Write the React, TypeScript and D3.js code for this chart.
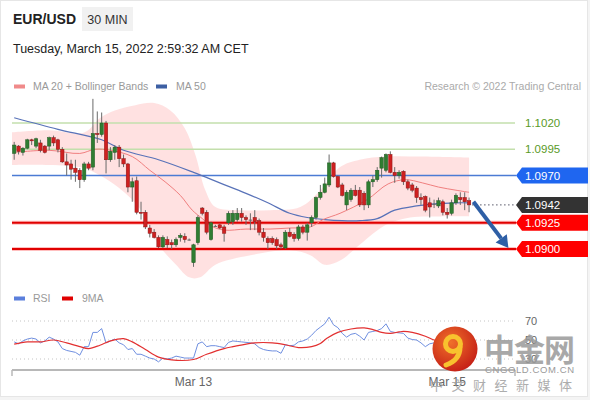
import * as d3 from "d3";
import React from "react";

// 30 min candles, Mar 11 -> Mar 15 02:30 CET
const opens = [
  1.0991, 1.0998, 1.0992, 1.0996, 1.1004, 1.0998, 1.1001, 1.0998, 1.0998, 1.1006,
  1.1004, 1.0995, 1.0983, 1.0981, 1.0977, 1.0975, 1.0966, 1.0981, 1.0978, 1.101,
  1.1009, 1.102, 1.0985, 1.0992, 1.0997, 1.0986, 1.0981, 1.0959, 1.0965, 1.0935,
  1.0935, 1.092, 1.0916, 1.0911, 1.0902, 1.0909, 1.0906, 1.0904, 1.0911, 1.0912,
  1.0909, 1.0887, 1.0906, 1.0939, 1.0935, 1.0909, 1.0922, 1.0923, 1.0921, 1.0925,
  1.0926, 1.0928, 1.0934, 1.093, 1.0928, 1.093, 1.0927, 1.0916, 1.091, 1.091,
  1.0909, 1.0904, 1.0901, 1.0916, 1.0914, 1.091, 1.0921, 1.0916, 1.0925, 1.093,
  1.0949, 1.0954, 1.0961, 1.0982, 1.0969, 1.0961, 1.0942, 1.0947, 1.0956, 1.0956,
  1.0953, 1.0942, 1.0964, 1.0966, 1.0977, 1.0975, 1.099, 1.0973, 1.097, 1.0974,
  1.0964, 1.0961, 1.0958, 1.0949, 1.095, 1.0944, 1.0943, 1.0941, 1.0945, 1.0935,
  1.0934, 1.0944, 1.0949, 1.0949, 1.0946,
];
const highs = [
  1.1002, 1.0999, 1.0997, 1.1005, 1.1005, 1.1006, 1.1004, 1.0999, 1.1007, 1.1008,
  1.1005, 1.0997, 1.0991, 1.0985, 1.0985, 1.0977, 1.0983, 1.0983, 1.1043, 1.1031,
  1.103, 1.1022, 1.0997, 1.0999, 1.0999, 1.099, 1.0982, 1.0968, 1.0969, 1.0945,
  1.0937, 1.0923, 1.0919, 1.0913, 1.0913, 1.0912, 1.0909, 1.0911, 1.0915, 1.0915,
  1.091, 1.0905, 1.0932, 1.094, 1.0937, 1.0926, 1.0923, 1.0924, 1.0923, 1.0936,
  1.0937, 1.0939, 1.0939, 1.0932, 1.0934, 1.0937, 1.0929, 1.092, 1.0912, 1.0912,
  1.0911, 1.0906, 1.0918, 1.092, 1.0916, 1.0923, 1.0923, 1.0925, 1.0932, 1.095,
  1.0961, 1.0968, 1.099, 1.0983, 1.097, 1.0963, 1.0956, 1.0958, 1.0961, 1.0959,
  1.0955, 1.0966, 1.097, 1.0978, 1.0988, 1.0991, 1.0993, 1.0978, 1.0975, 1.0975,
  1.0966, 1.0963, 1.096, 1.0953, 1.0951, 1.0949, 1.0947, 1.0949, 1.0947, 1.0939,
  1.0947, 1.0953, 1.0954, 1.0954, 1.0949,
];
const lows = [
  1.0985, 1.099, 1.0989, 1.0995, 1.0999, 1.0996, 1.0992, 1.0991, 1.0994, 1.0998,
  1.0992, 1.0982, 1.097, 1.0966, 1.0964, 1.0958, 1.0964, 1.0975, 1.0975, 1.1001,
  1.1007, 1.0972, 1.0983, 1.0985, 1.0978, 1.0978, 1.0954, 1.0945, 1.0933, 1.0928,
  1.0919, 1.0911, 1.091, 1.0901, 1.0901, 1.0901, 1.09, 1.0902, 1.0907, 1.0906,
  1.0908, 1.0883, 1.0904, 1.0932, 1.0914, 1.0908, 1.0921, 1.0919, 1.0907, 1.0923,
  1.0923, 1.0926, 1.0926, 1.0923, 1.0918, 1.0918, 1.0913, 1.0907, 1.09, 1.0904,
  1.09, 1.09, 1.09, 1.0911, 1.0907, 1.0908, 1.0914, 1.0908, 1.0921, 1.0928,
  1.0947, 1.0953, 1.0959, 1.0968, 1.0958, 1.095, 1.0937, 1.0945, 1.095, 1.094,
  1.0937, 1.0939, 1.0959, 1.0964, 1.0968, 1.0973, 1.0972, 1.0963, 1.0967, 1.0961,
  1.0956, 1.0954, 1.0944, 1.0942, 1.0935, 1.093, 1.0939, 1.0939, 1.0932, 1.0929,
  1.0932, 1.0942, 1.0942, 1.0937, 1.0935,
];
const closes = [
  1.0999, 1.0993, 1.0996, 1.1004, 1.1003, 1.1005, 1.0994, 1.0992, 1.1006, 1.1001,
  1.0995, 1.0983, 1.098, 1.0976, 1.0973, 1.0966, 1.0981, 1.0977, 1.101, 1.1009,
  1.102, 1.0985, 1.0993, 1.0997, 1.0986, 1.0981, 1.0959, 1.0964, 1.0935, 1.0934,
  1.0921, 1.0915, 1.0911, 1.0902, 1.0911, 1.0904, 1.0904, 1.0909, 1.0913, 1.0909,
  1.0909, 1.0904, 1.093, 1.0934, 1.0916, 1.0925, 1.0922, 1.092, 1.0915, 1.0934,
  1.0934, 1.0934, 1.093, 1.0928, 1.0928, 1.0926, 1.0916, 1.0911, 1.0906, 1.0906,
  1.0903, 1.0902, 1.0916, 1.0912, 1.091, 1.0921, 1.0916, 1.0923, 1.093, 1.0949,
  1.0954, 1.0962, 1.0982, 1.0969, 1.0959, 1.0951, 1.0954, 1.0956, 1.0951, 1.0942,
  1.0942, 1.0964, 1.0966, 1.0975, 1.0987, 1.099, 1.0973, 1.097, 1.0973, 1.0964,
  1.0958, 1.0956, 1.0949, 1.0947, 1.0937, 1.094, 1.0943, 1.0946, 1.0935, 1.0933,
  1.0944, 1.0951, 1.0947, 1.0945, 1.0942,
];

// indicator readings [candle index, value]
const ma20Pts = [
  [0, 1.0992], [8, 1.0994], [15, 1.0991], [18.5, 1.0995], [22, 1.0994], [27, 1.0988],
  [31, 1.0975], [34.5, 1.0964], [38, 1.0951], [40.7, 1.0937], [43, 1.0929], [45, 1.0922],
  [48, 1.0918], [53, 1.0919], [58.5, 1.0919], [63, 1.092], [67.7, 1.0921], [70.6, 1.0928],
  [74.5, 1.0934], [80.7, 1.0947], [85.5, 1.0962], [89.4, 1.0966], [93.3, 1.0963],
  [97, 1.0959], [101, 1.0956], [104, 1.0954],
];
const bbUpperPts = [
  [-0.5, 1.1011], [8, 1.1013], [16, 1.1011], [19.7, 1.1025], [23, 1.1032], [27.7, 1.1037],
  [32, 1.1039], [35.7, 1.1032], [39, 1.1015], [41.4, 1.099], [43.7, 1.0956], [46, 1.094],
  [51.7, 1.0937], [58.5, 1.0937], [65.4, 1.094], [70, 1.0956], [74.5, 1.0978], [79, 1.0985],
  [85, 1.0988], [93, 1.0988], [104, 1.0987],
];
const bbLowerPts = [
  [-0.5, 1.098], [8, 1.098], [16, 1.0977], [19.7, 1.097], [24, 1.0958], [29, 1.0937],
  [33, 1.0904], [37, 1.0885], [40, 1.0873], [42.5, 1.0873], [46, 1.0885], [54, 1.0894],
  [63, 1.0899], [67.7, 1.0894], [71, 1.0885], [74.5, 1.0889], [79, 1.0904], [85, 1.0923],
  [90.5, 1.093], [97.4, 1.0931], [104, 1.0931],
];
const ma50Pts = [
  [0, 1.1025], [10, 1.1014], [20, 1.1004], [25, 1.0994], [33, 1.0985], [41, 1.0973],
  [47, 1.0963], [53, 1.0953], [58, 1.0944], [63, 1.0934], [67, 1.093], [71, 1.0928],
  [75, 1.0927], [79, 1.0927], [83, 1.0929], [87, 1.0937], [92, 1.0941], [96, 1.0943],
  [101, 1.0944], [104, 1.0944],
];

const rsiValues = [
  48, 46, 49, 51, 52, 51, 47, 49, 53, 51, 48, 41, 39, 38, 37, 34, 43, 43, 58, 58,
  62, 47, 49, 51, 47, 45, 40, 41, 35, 35, 33, 31, 30, 27, 31, 30, 31, 33, 32, 31,
  31, 31, 46, 48, 43, 44, 44, 43, 42, 47.5, 49, 48.5, 48, 47.5, 47, 46, 42, 40, 39, 38.5,
  38.5, 36, 45, 44, 44.5, 48, 49, 51, 55, 60, 63.5, 67, 74, 66, 63, 57, 53, 56, 57, 54,
  50, 58, 59, 60, 62, 67, 59, 58, 57.5, 57, 52, 50.5, 50, 47, 43, 46, 47, 46, 47, 44,
  43, 47, 50, 48, 47,
];
const rsiMaPts = [
  [0, 45.6], [3, 48], [6, 48], [9, 50], [12, 47], [15, 43], [17, 41], [19.6, 44.5],
  [22, 49], [25, 51.5], [27, 48], [30, 40], [33, 32], [36, 29], [41, 29.5], [44, 35],
  [48, 41], [50, 43], [55, 47], [59, 47], [62, 45], [65, 42], [68, 43], [70, 46.4],
  [71.5, 51.8], [74, 58], [77, 61.6], [80, 62.7], [82, 61], [84, 58], [86, 57],
  [88, 58.5], [89, 59], [91, 58], [94, 54], [96, 50], [99, 47], [102, 46], [104, 45],
];

const levelValues = [1.102, 1.0995, 1.097, 1.0942, 1.0925, 1.09];
const levelKinds = ["res", "res", "pivot", "last", "sup", "sup"];
const rsiLevels = [70, 50, 30];
const tickIndex = [41, 99];
const tickLabels = ["Mar 13", "Mar 15"];
const target = { from: [105, 1.0945], to: [113, 1.0901] };

const W = 590;
const H = 400;
const FONT = "Arial, 'Liberation Sans', sans-serif";

export default function App() {
  const x = d3.scaleLinear().domain([-0.5, 114.5]).range([12, 515]);
  const y = d3.scaleLinear().domain([1.09, 1.102]).range([249, 123]);
  const yr = d3.scaleLinear().domain([30, 70]).range([359, 321]);

  const ptLine = d3
    .line<number[]>()
    .x((d) => x(d[0]))
    .y((d) => y(d[1]))
    .curve(d3.curveCatmullRom);
  const upper = ptLine(bbUpperPts) ?? "";
  const lower = (ptLine([...bbLowerPts].reverse()) ?? "").replace(/^M/, "L");
  const band = upper + lower + "Z";

  const rsiLine = d3
    .line<number>()
    .x((_, i) => x(i))
    .y((d) => yr(d));
  const rsiMaLine = d3
    .line<number[]>()
    .x((d) => x(d[0]))
    .y((d) => yr(d[1]))
    .curve(d3.curveCatmullRom);

  // arrow
  const ax0 = x(target.from[0]);
  const ay0 = y(target.from[1]);
  const ax1 = x(target.to[0]);
  const ay1 = y(target.to[1]);
  const ang = Math.atan2(ay1 - ay0, ax1 - ax0);
  const hl = 12;
  const hw = 7;
  const bx = ax1 - hl * Math.cos(ang);
  const by = ay1 - hl * Math.sin(ang);
  const head = [
    [ax1, ay1],
    [bx + hw * Math.sin(ang), by - hw * Math.cos(ang)],
    [bx - hw * Math.sin(ang), by + hw * Math.cos(ang)],
  ];

  const tag = (yy: number) =>
    `M516,${yy} L522,${yy - 8} L588,${yy - 8} L588,${yy + 8} L522,${yy + 8} Z`;

  return (
    <div style={{ position: "fixed", left: 0, top: 0 }}>
      <svg width={W} height={H} style={{ display: "block", fontFamily: FONT }}>
        <defs>
          <radialGradient id="logo" cx="40%" cy="35%" r="70%">
            <stop offset="0%" stopColor="#f0702a" />
            <stop offset="100%" stopColor="#c41e16" />
          </radialGradient>
        </defs>
        <rect x={0} y={0} width={W} height={H} fill="#f4f4f4" />
        <rect x={0.5} y={0.5} width={587} height={396} fill="#fff" stroke="#e6e6e6" />

        {/* header */}
        <text x={13} y={24} fontSize={14} fontWeight="bold" fill="#222">EUR/USD</text>
        <rect x={82} y={7} width={51} height={24} fill="#f1f1f1" />
        <text x={107.5} y={23.5} fontSize={12.5} fill="#333" textAnchor="middle">30 MIN</text>
        <text x={13} y={53} fontSize={12.5} fill="#222">
          Tuesday, March 15, 2022 2:59:32 AM CET
        </text>

        {/* legend */}
        <rect x={14} y={84.5} width={11} height={4} fill="#f08a8a" />
        <text x={33} y={90} fontSize={10.5} fill="#999">MA 20 + Bollinger Bands</text>
        <rect x={156} y={84.5} width={11} height={4} fill="#3d5fa3" />
        <text x={176} y={90} fontSize={10.5} fill="#999">MA 50</text>
        <text x={581} y={90} fontSize={10.5} fill="#aaa" textAnchor="end">
          Research © 2022 Trading Central
        </text>

        {/* bollinger band */}
        <path d={band} fill="#ff6b6b" opacity={0.2} />

        {/* levels */}
        {levelValues.map((v, i) => {
          const k = levelKinds[i];
          const yy = y(v);
          if (k === "res")
            return (
              <g key={i}>
                <line x1={12} x2={515} y1={yy} y2={yy} stroke="#c3dfac" strokeWidth={1.5} />
                <text x={525} y={yy + 4} fontSize={11.5} fill="#5a9a28">{v.toFixed(4)}</text>
              </g>
            );
          const fill = k === "pivot" ? "#1f66f0" : k === "last" ? "#333" : "#ff0000";
          return (
            <g key={i}>
              {k === "pivot" && (
                <line x1={12} x2={516} y1={yy} y2={yy} stroke="#4b7bd4" strokeWidth={1.5} />
              )}
              {k === "sup" && (
                <>
                  <line x1={12} x2={516} y1={yy} y2={yy} stroke="#ff8080" strokeWidth={4} opacity={0.5} />
                  <line x1={12} x2={516} y1={yy} y2={yy} stroke="#e00000" strokeWidth={2} />
                </>
              )}
              {k === "last" && (
                <line x1={x(104) + 3} x2={516} y1={yy} y2={yy} stroke="#556" strokeWidth={1} strokeDasharray="1.5,2.5" />
              )}
              <path d={tag(yy)} fill={fill} />
              <text x={525} y={yy + 4} fontSize={11.5} fill="#fff">{v.toFixed(4)}</text>
            </g>
          );
        })}

        {/* moving averages */}
        <path d={ptLine(ma50Pts) ?? ""} fill="none" stroke="#5872b8" strokeWidth={1.2} />
        <path d={ptLine(ma20Pts) ?? ""} fill="none" stroke="#f07f7f" strokeWidth={1} />

        {/* candles */}
        {closes.map((c, i) => {
          const o = opens[i];
          const cx = x(i);
          const up = c > o;
          const flat = c === o;
          const col = flat ? "#666" : up ? "#2f7d32" : "#cf2020";
          const top = y(Math.max(o, c));
          const bot = y(Math.min(o, c));
          return (
            <g key={i}>
              <line x1={cx} x2={cx} y1={y(highs[i])} y2={y(lows[i])} stroke="#6a6a6a" strokeWidth={1} />
              <rect
                x={cx - 1.7}
                y={top}
                width={3.4}
                height={Math.max(1, bot - top)}
                fill={col}
                stroke={flat ? "none" : up ? "#1e5a20" : "#8a1414"}
                strokeWidth={0.5}
              />
            </g>
          );
        })}

        {/* target arrow */}
        <line x1={ax0} y1={ay0} x2={bx} y2={by} stroke="#2e5fa6" strokeWidth={4} />
        <polygon points={head.map((p) => p.join(",")).join(" ")} fill="#2e5fa6" />

        {/* RSI panel */}
        <rect x={14} y={296.5} width={11} height={4} fill="#5b7fdc" />
        <text x={33} y={302} fontSize={10.5} fill="#999">RSI</text>
        <rect x={62} y={296.5} width={11} height={4} fill="#e00000" />
        <text x={82} y={302} fontSize={10.5} fill="#999">9MA</text>
        {rsiLevels.map((v) => (
          <g key={v}>
            <line x1={12} x2={515} y1={yr(v)} y2={yr(v)} stroke="#c4c4c4" strokeDasharray="1,3" />
            <text x={525} y={yr(v) + 4} fontSize={11} fill="#666">{v}</text>
          </g>
        ))}
        <path d={rsiLine(rsiValues) ?? ""} fill="none" stroke="#6f8fe0" strokeWidth={1} />
        <path d={rsiMaLine(rsiMaPts) ?? ""} fill="none" stroke="#e23030" strokeWidth={1.2} />

        {/* time axis */}
        <line x1={12} x2={515} y1={370} y2={370} stroke="#b8b8b8" strokeWidth={2} />
        <line x1={12} x2={12} y1={370} y2={376} stroke="#b8b8b8" strokeWidth={1.5} />
        <line x1={515} x2={515} y1={370} y2={376} stroke="#b8b8b8" strokeWidth={1.5} />
        {tickIndex.map((t, i) => (
          <text key={t} x={x(t)} y={386} fontSize={12} fill="#666" textAnchor="middle">
            {tickLabels[i]}
          </text>
        ))}

        {/* watermark */}
        <g>
          <circle cx={455} cy={349} r={22.5} fill="url(#logo)" />
          <circle cx={453} cy={344} r={7.5} fill="none" stroke="#f8c22e" strokeWidth={5} />
          <path d="M460,347 Q460,360 446,365" fill="none" stroke="#f8c22e" strokeWidth={5} strokeLinecap="round" />
          <text x={484} y={361} fontSize={31} fontWeight="bold" fill="#9a9a9a" opacity={0.85}
            fontFamily="'Noto Sans CJK SC', sans-serif" letterSpacing={-1}>
            中金网
          </text>
          <text x={485} y={373} fontSize={9.5} fill="#9a9a9a" letterSpacing={0.6}>CNGOLD.COM.CN</text>
          <text x={430} y={390} fontSize={13} fill="#999" opacity={0.8} letterSpacing={8.5}
            fontFamily="'Noto Sans CJK SC', sans-serif">
            中文财经新媒体
          </text>
        </g>
      </svg>
    </div>
  );
}
